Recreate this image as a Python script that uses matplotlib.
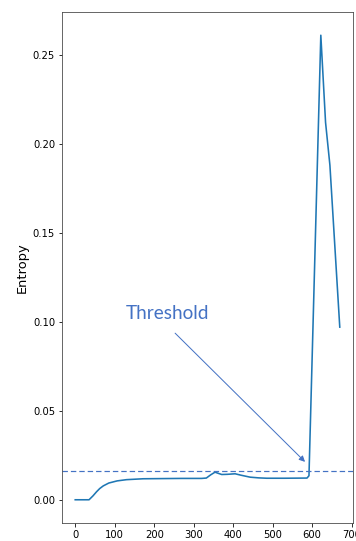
import matplotlib
matplotlib.use("Agg")
import matplotlib.pyplot as plt

# Entropy trace over training steps
steps = [0, 35, 45, 54, 62, 71, 85, 106, 130, 172, 220, 270, 320, 332,
         343, 354, 363, 371, 385, 405, 420, 443, 465, 485, 530, 587,
         592, 622, 634, 645, 670]
entropy = [0.0, 0.0, 0.0022, 0.0045, 0.0063, 0.0078, 0.0094, 0.0106, 0.0113,
           0.0118, 0.0119, 0.0120, 0.0120, 0.0122,
           0.0140, 0.0155, 0.0148, 0.0142, 0.0143, 0.0146, 0.0138, 0.0127,
           0.0123, 0.0121, 0.0121, 0.0122,
           0.0135, 0.261, 0.212, 0.188, 0.097]

threshold = 0.016
threshold_label = "Threshold"
arrow_tip = (582, 0.0213)
arrow_tail = (253, 0.0936)
label_pos = (128.7, 0.1015)

accent = "#4472C4"

fig = plt.figure(figsize=(356 / 72, 541 / 72), dpi=72)
ax = fig.add_axes([62 / 356, 18 / 541, 291 / 356, 511 / 541])

ax.plot(steps, entropy, color="#1f77b4", lw=1.6)
ax.axhline(threshold, color=accent, lw=1.2, ls=(0, (4.5, 2.5)))

ax.annotate("", xy=arrow_tip, xytext=arrow_tail,
            arrowprops=dict(arrowstyle="-|>", color=accent, lw=1.0,
                            mutation_scale=12, shrinkA=0, shrinkB=0))
ax.text(label_pos[0], label_pos[1], threshold_label, color=accent,
        fontsize=19, family=["Lato", "DejaVu Sans"], ha="left", va="baseline")

ax.set_ylabel("Entropy", fontsize=13)
for spine in ax.spines.values():
    spine.set_color("#444444")

fig.savefig("out.png", dpi=72)
